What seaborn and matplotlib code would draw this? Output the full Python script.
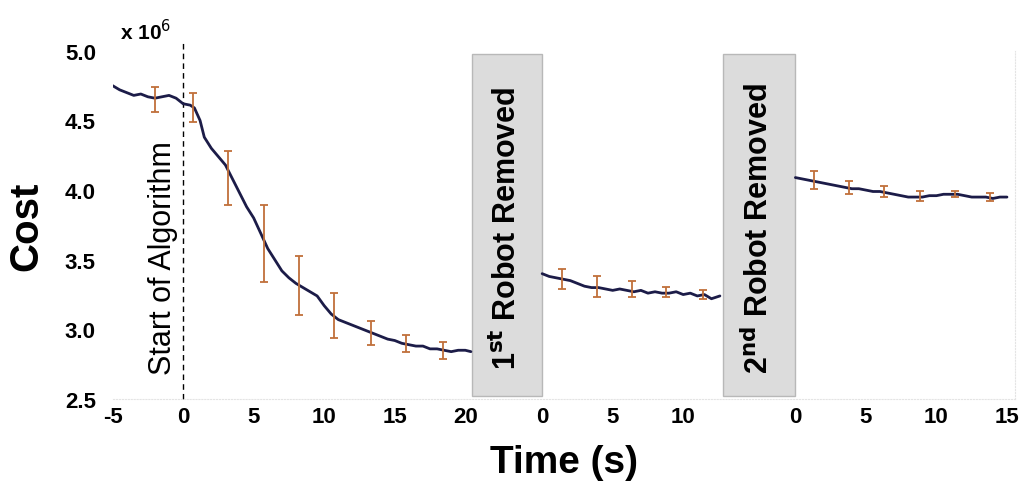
import numpy as np
import pandas as pd
import matplotlib
matplotlib.use("Agg")
import matplotlib.pyplot as plt
import seaborn as sns

# cost in units of 1e6, time in seconds, each phase has its own clock
t1 = [-5, -4.5, -4, -3.5, -3, -2.5, -2, -1.5, -1, -0.5, 0, 0.5, 0.8, 1.2, 1.5, 2, 2.5, 3,
      3.5, 4, 4.5, 5, 5.5, 6, 6.5, 7, 7.5, 8, 8.5, 9, 9.5, 10, 10.5, 11, 11.5, 12, 12.5,
      13, 13.5, 14, 14.5, 15, 15.5, 16, 16.5, 17, 17.5, 18, 18.5, 19, 19.5, 20, 20.4]
c1 = [4.75, 4.72, 4.70, 4.68, 4.69, 4.67, 4.66, 4.67, 4.68, 4.66, 4.62, 4.61, 4.59, 4.50,
      4.38, 4.30, 4.24, 4.18, 4.08, 3.98, 3.88, 3.80, 3.69, 3.58, 3.50, 3.42, 3.37, 3.33,
      3.30, 3.27, 3.24, 3.17, 3.11, 3.07, 3.05, 3.03, 3.01, 2.99, 2.97, 2.95, 2.93, 2.92,
      2.90, 2.89, 2.88, 2.88, 2.86, 2.86, 2.85, 2.84, 2.85, 2.85, 2.84]
t2 = [0, 0.5, 1, 1.5, 2, 2.5, 3, 3.5, 4, 4.5, 5, 5.5, 6, 6.5, 7, 7.5, 8, 8.5, 9, 9.5, 10,
      10.5, 11, 11.5, 12, 12.3, 12.6]
c2 = [3.40, 3.38, 3.37, 3.36, 3.35, 3.33, 3.31, 3.30, 3.30, 3.29, 3.28, 3.29, 3.28, 3.27,
      3.28, 3.26, 3.27, 3.26, 3.26, 3.27, 3.25, 3.26, 3.24, 3.25, 3.22, 3.23, 3.24]
t3 = [0, 0.5, 1, 1.5, 2, 2.5, 3, 3.5, 4, 4.5, 5, 5.5, 6, 6.5, 7, 7.5, 8, 8.5, 9, 9.5, 10,
      10.5, 11, 11.5, 12, 12.5, 13, 13.5, 14, 14.5, 15]
c3 = [4.09, 4.08, 4.07, 4.06, 4.05, 4.04, 4.03, 4.02, 4.01, 4.01, 4.00, 3.99, 3.99, 3.98,
      3.97, 3.96, 3.95, 3.95, 3.95, 3.96, 3.96, 3.97, 3.97, 3.97, 3.96, 3.95, 3.95, 3.95,
      3.94, 3.95, 3.95]

# error bars
et1 = [-2, 0.7, 3.2, 5.7, 8.2, 10.7, 13.3, 15.8, 18.4]
em1 = [4.65, 4.595, 4.085, 3.615, 3.315, 3.10, 2.975, 2.90, 2.85]
ee1 = [0.09, 0.105, 0.195, 0.275, 0.215, 0.16, 0.085, 0.06, 0.06]
et2 = [1.4, 3.9, 6.4, 8.8, 11.4]
em2 = [3.36, 3.31, 3.29, 3.27, 3.25]
ee2 = [0.07, 0.075, 0.055, 0.035, 0.035]
et3 = [1.3, 3.8, 6.3, 8.8, 11.3, 13.8]
em3 = [4.07, 4.02, 3.99, 3.96, 3.97, 3.95]
ee3 = [0.065, 0.045, 0.04, 0.035, 0.02, 0.03]

tick_vals = [[-5, 0, 5, 10, 15, 20], [0, 5, 10], [0, 5, 10, 15]]

# where each phase's clock starts on the shared axis
offsets = [0, 25.45, 43.4]
bands = [(20.45, 25.45), (38.3, 43.4)]

sns.set_style("white")
plt.rcParams['font.family'] = ['Liberation Sans', 'DejaVu Sans']
plt.rcParams['text.color'] = 'black'
plt.rcParams['axes.labelcolor'] = 'black'
plt.rcParams['xtick.color'] = 'black'
plt.rcParams['ytick.color'] = 'black'

fig = plt.figure(figsize=(10.33, 4.89), dpi=100)
ax = fig.add_axes([0.109, 0.182, 0.874, 0.712])

line_col = "#1c1c48"
err_col = "#c0703a"

for (lo, hi), lab in zip(bands, ["1$^{\\mathbf{st}}$ Robot Removed", "2$^{\\mathbf{nd}}$ Robot Removed"]):
    ax.axvspan(lo, hi, ymin=0.01, ymax=0.99, facecolor="#dcdcdc", edgecolor="#b8b8b8", lw=1, zorder=1)
    ax.text((lo + hi) / 2, 3.73, lab, rotation=90, ha="center", va="center",
            fontsize=22, fontweight="bold", color="black", zorder=3)

segs = [(t1, c1, et1, em1, ee1), (t2, c2, et2, em2, ee2), (t3, c3, et3, em3, ee3)]
rows = []
for i, (t, c, _, _, _) in enumerate(segs):
    for a, b in zip(t, c):
        rows.append({"x": a + offsets[i], "cost": b, "seg": i})
df = pd.DataFrame(rows)

sns.lineplot(data=df, x="x", y="cost", hue="seg", palette=[line_col] * 3, legend=False,
             lw=2, ax=ax, zorder=4, estimator=None, sort=False)

for i, (_, _, et, em, ee) in enumerate(segs):
    ax.errorbar(np.array(et) + offsets[i], em, yerr=ee, fmt="none", ecolor=err_col,
                elinewidth=1.3, capsize=3, capthick=1.3, zorder=5)

ax.axvline(0, ymin=0, ymax=1.03, color="black", ls=(0, (4, 3)), lw=1, clip_on=False, zorder=2)
ax.text(-1.45, 3.52, "Start of Algorithm", rotation=90, ha="center", va="center",
        fontsize=22, color="black")

ax.set_xlim(-5, 59)
ax.set_ylim(2.5, 5.0)
ax.set_yticks([2.5, 3.0, 3.5, 4.0, 4.5, 5.0])
ax.set_yticklabels(["2.5", "3.0", "3.5", "4.0", "4.5", "5.0"], fontsize=16, fontweight="bold")
xt, xl = [], []
for i, vals in enumerate(tick_vals):
    for v in vals:
        xt.append(v + offsets[i])
        xl.append(str(v))
ax.set_xticks(xt)
ax.set_xticklabels(xl, fontsize=16, fontweight="bold")
ax.tick_params(axis="y", length=0, pad=12)
ax.tick_params(axis="x", length=0, pad=5)

for s in ["top", "left"]:
    ax.spines[s].set_visible(False)
for s in ["bottom", "right"]:
    ax.spines[s].set_color("#e4e4e4")
    ax.spines[s].set_linestyle(":")

ax.set_xlabel("Time (s)", fontsize=28, fontweight="bold", labelpad=12)
ax.set_ylabel("Cost", fontsize=29, fontweight="bold", labelpad=14)
fig.text(0.116, 0.918, "x 10$^{6}$", fontsize=15, fontweight="bold")

fig.savefig("out.png", dpi=100)
